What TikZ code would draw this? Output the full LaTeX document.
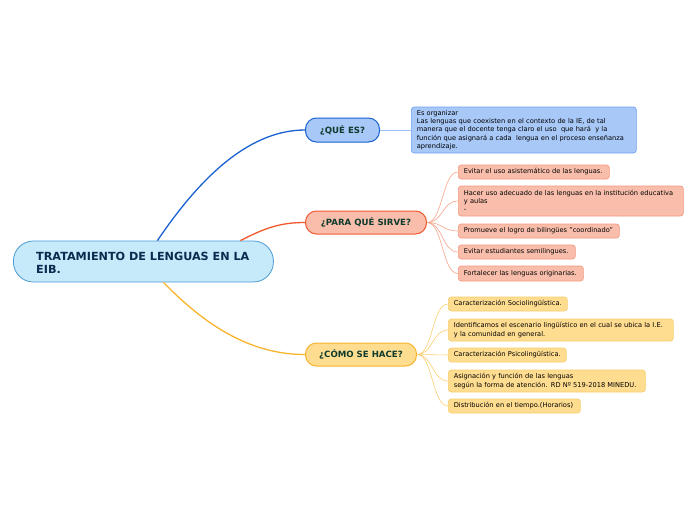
\documentclass[tikz,border=0pt]{standalone}
\usepackage{fontspec}
\setmainfont{DejaVu Sans}
\usetikzlibrary{calc}
\definecolor{rootfill}{HTML}{C7EAFB}
\definecolor{rootdraw}{HTML}{4A9AD4}
\definecolor{roottext}{HTML}{0B2A4E}
\definecolor{quefill}{HTML}{A8C8F8}
\definecolor{quedraw}{HTML}{1A62D1}
\definecolor{parafill}{HTML}{F8BEAB}
\definecolor{paradraw}{HTML}{F2582E}
\definecolor{comofill}{HTML}{FEDC90}
\definecolor{comodraw}{HTML}{F7B52C}
\definecolor{maintext}{HTML}{0E3A2C}
\definecolor{parasub}{HTML}{F59A7E}
\definecolor{comosub}{HTML}{F8CF6E}
\definecolor{quesub}{HTML}{6FA3EE}
\definecolor{paraline}{HTML}{F6A48A}
\definecolor{comoline}{HTML}{FBCF70}
\definecolor{queline}{HTML}{9CC0F4}
\tikzset{
  mainbox/.style={draw, line width=1pt, rounded corners=11pt, anchor=west,
    font=\bfseries\fontsize{8.6}{10}\selectfont, text=maintext, inner sep=0pt},
  subbox/.style={draw, line width=0.7pt, rounded corners=3pt, anchor=west,
    align=left, inner xsep=5.5pt, inner ysep=0pt, text=black,
    font=\fontsize{6.65}{8.3}\selectfont},
  parabox/.style={subbox, fill=parafill, draw=parasub},
  comobox/.style={subbox, fill=comofill, draw=comosub},
  parac/.style={draw=paraline, line width=0.6pt},
  comoc/.style={draw=comoline, line width=0.6pt},
}
\begin{document}
\begin{tikzpicture}[x=1pt,y=-1pt]
\useasboundingbox (0,0) rectangle (696,520);
\fill[white] (0,0) rectangle (696,520);

% root
\node[draw=rootdraw, fill=rootfill, line width=0.8pt, rounded corners=20pt,
  minimum width=260pt, minimum height=41pt, anchor=west, inner sep=0pt] (root) at (13,261.5) {};
\node[anchor=west, align=left, text=roottext, font=\bfseries\fontsize{11.2}{13}\selectfont, inner sep=0pt]
  (roott) at (36,262.5) {TRATAMIENTO DE LENGUAS EN LA\\EIB.};

% main nodes
\node[mainbox, fill=quefill, draw=quedraw, minimum width=74pt, minimum height=24pt] (que) at (305,130) {¿QUÉ ES?};
\node[mainbox, fill=parafill, draw=paradraw, minimum width=121pt, minimum height=23pt] (para) at (305,222.5) {¿PARA QUÉ SIRVE?};
\node[mainbox, fill=comofill, draw=comodraw, minimum width=111pt, minimum height=23pt] (como) at (305,354.5) {¿CÓMO SE HACE?};

% root connectors
\draw[draw=quedraw, line width=1.3pt] ($(root.north)+(14,0)$) .. controls (195,185) and (245,130) .. (que.west);
\draw[draw=paradraw, line width=1.3pt] ($(root.north)+(97,0)$) .. controls (265,228) and (280,222.5) .. (para.west);
\draw[draw=comodraw, line width=1.3pt] ($(root.south)+(20,0)$) .. controls (205,325) and (250,354.5) .. (como.west);

% detail of QUE ES
\node[subbox, fill=quefill, draw=quesub, text width=214pt, minimum height=46pt] (qued) at (411,130)
  {Es organizar\\Las lenguas que coexisten en el contexto de la IE, de tal\\manera que el docente tenga claro el uso\ \ que hará\ \ y la\\función que asignará a cada\ \ lengua en el proceso enseñanza\\aprendizaje.};
\draw[draw=queline, line width=1pt] (que.east) -- (qued.west);

% PARA sub nodes
\node[parabox, text width=140pt, minimum height=14pt] (p1) at (458,172) {Evitar el uso asistemático de las lenguas.};
\node[parabox, text width=214pt, minimum height=30pt] (p2) at (458,201) {Hacer uso adecuado de las lenguas en la institución educativa\\y aulas\\-};
\node[parabox, text width=150pt, minimum height=14pt] (p3) at (458,231) {Promueve el logro de bilingües "coordinado"};
\node[parabox, text width=106pt, minimum height=14pt] (p4) at (458,252) {Evitar estudiantes semilingues.};
\node[parabox, text width=114pt, minimum height=15pt] (p5) at (458,273.5) {Fortalecer las lenguas originarias.};
\foreach \n in {p1,p2,p3,p4,p5}{
  \draw[parac] (para.east) .. controls ($(para.east)+(16,0)$) and ($(\n.west)+(-16,0)$) .. (\n.west);
}

% COMO sub nodes
\node[comobox, text width=108pt, minimum height=14pt] (c1) at (448,304) {Caracterización Sociolingüística.};
\node[comobox, text width=214pt, minimum height=22pt] (c2) at (448,330) {Identificamos el escenario lingüístico en el cual se ubica la I.E.\\y la comunidad en general.};
\node[comobox, text width=186pt, minimum height=22pt] (c4) at (448,381) {Asignación y función de las lenguas\\según la forma de atención. RD Nº 519-2018 MINEDU.};
\node[comobox, text width=107pt, minimum height=14pt] (c3) at (448,355) {Caracterización Psicolingüística.};
\node[comobox, text width=121pt, minimum height=14pt] (c5) at (448,406) {Distribución en el tiempo.(Horarios)};
\foreach \n in {c1,c2,c3,c4,c5}{
  \draw[comoc] (como.east) .. controls ($(como.east)+(16,0)$) and ($(\n.west)+(-16,0)$) .. (\n.west);
}
\end{tikzpicture}
\end{document}
